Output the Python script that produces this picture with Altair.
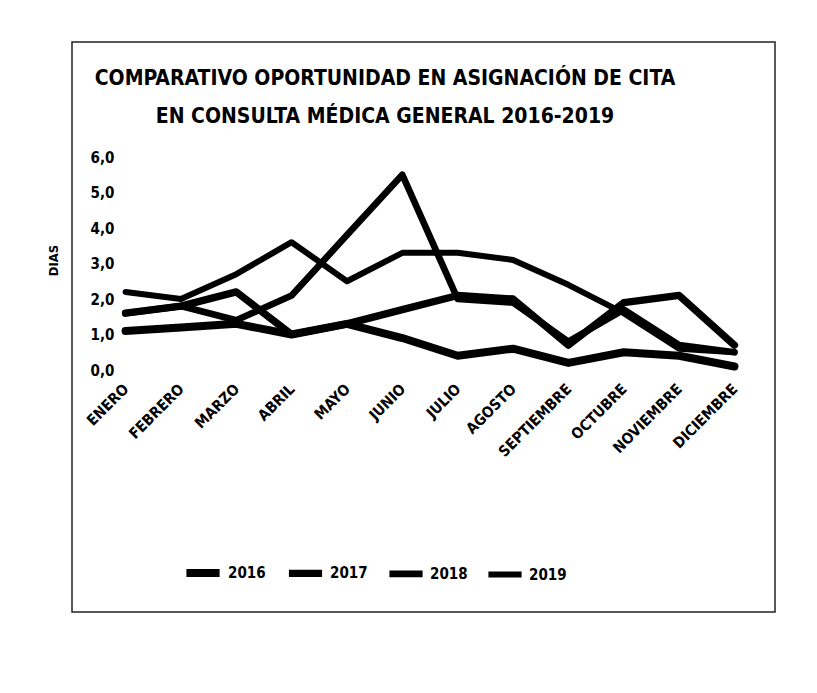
import altair as alt
import pandas as pd

months = ["ENERO", "FEBRERO", "MARZO", "ABRIL", "MAYO", "JUNIO", "JULIO",
          "AGOSTO", "SEPTIEMBRE", "OCTUBRE", "NOVIEMBRE", "DICIEMBRE"]
years = ["2016", "2017", "2018", "2019"]

v2016 = [1.1, 1.2, 1.3, 1.0, 1.3, 0.9, 0.4, 0.6, 0.2, 0.5, 0.4, 0.1]
v2017 = [1.6, 1.8, 2.2, 1.0, 1.3, 1.7, 2.1, 2.0, 0.7, 1.9, 2.1, 0.7]
v2018 = [1.6, 1.8, 1.4, 2.1, 3.8, 5.5, 2.0, 1.9, 0.8, 1.7, 0.7, 0.5]
v2019 = [2.2, 2.0, 2.7, 3.6, 2.5, 3.3, 3.3, 3.1, 2.4, 1.6, 0.6, 0.5]

y_ticks = [0, 1, 2, 3, 4, 5, 6]
title_lines = ["COMPARATIVO OPORTUNIDAD EN ASIGNACIÓN DE CITA",
               "EN CONSULTA MÉDICA GENERAL 2016-2019"]

rows = []
for yr, vals in zip(years, [v2016, v2017, v2018, v2019]):
    for m, v in zip(months, vals):
        rows.append({"Mes": m, "Año": yr, "Dias": v})
df = pd.DataFrame(rows)

FONT = "Liberation Sans Narrow, DejaVu Sans Condensed, Arial Narrow, sans-serif"

W, H = 620, 213

frame = alt.Chart(alt.Data(values=[{"k": 1}])).mark_rect(
    fill="transparent", stroke="#222", strokeWidth=1.5
).encode(
    x=alt.value(-48), x2=alt.value(655), y=alt.value(-115), y2=alt.value(455)
)

title1 = alt.Chart(alt.Data(values=[{"t": title_lines[0]}])).mark_text(
    font=FONT, fontSize=21, fontWeight="bold", color="#000",
    align="center", baseline="middle"
).encode(text="t:N", x=alt.value(265), y=alt.value(-78))

title2 = alt.Chart(alt.Data(values=[{"t": title_lines[1]}])).mark_text(
    font=FONT, fontSize=21, fontWeight="bold", color="#000",
    align="center", baseline="middle"
).encode(text="t:N", x=alt.value(265), y=alt.value(-40))

lines = alt.Chart(df).mark_line(strokeCap="round", strokeJoin="round").encode(
    x=alt.X("Mes:N", sort=months,
            scale=alt.Scale(padding=0.1),
            axis=alt.Axis(title=None, labelAngle=-45, labelFont=FONT,
                          labelFontSize=15, labelFontWeight="bold",
                          labelColor="#000", labelPadding=16,
                          labelAlign="right", labelBaseline="middle")),
    y=alt.Y("Dias:Q", scale=alt.Scale(domain=[0, 6]),
            axis=alt.Axis(values=y_ticks,
                          labelExpr="replace(format(datum.value, '.1f'), '.', ',')",
                          title="DIAS", titleFont=FONT, titleFontSize=13,
                          titleFontWeight="bold", titleColor="#000",
                          titleX=-60, titleY=103, titleAngle=-90,
                          labelFont=FONT, labelFontSize=15, labelFontWeight="bold",
                          labelColor="#000", labelPadding=6)),
    color=alt.Color("Año:N", scale=alt.Scale(domain=years, range=["#000000"] * 4),
                    legend=alt.Legend(title=None, orient="none", legendX=62, legendY=395,
                                      direction="horizontal", symbolType="stroke",
                                      symbolStrokeWidth=5, symbolSize=1100,
                                      labelFont=FONT, labelFontSize=15,
                                      labelFontWeight="bold", labelColor="#000",
                                      columnPadding=8)),
    strokeWidth=alt.StrokeWidth("Año:N",
                                scale=alt.Scale(domain=years, range=[8, 6, 7, 2.5]),
                                legend=None),
    order=alt.Order("Año:N"),
)

chart = alt.layer(frame, title1, title2, lines).properties(
    width=W, height=H,
    autosize=alt.AutoSizeParams(type="none"),
    padding={"left": 112, "top": 149, "right": 60, "bottom": 300},
    background="white",
).configure_view(stroke=None).configure_axis(
    domain=False, ticks=False, grid=False
)

chart.save("out.html", embed_options={"renderer": "svg", "actions": False})
